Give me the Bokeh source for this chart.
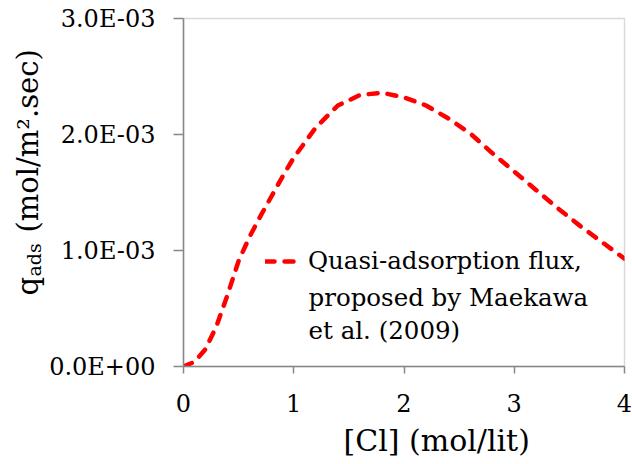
import math

from bokeh.embed import file_html
from bokeh.layouts import row
from bokeh.models import (CustomJSTickFormatter, FixedTicker, Label, Legend,
                          LegendItem, Range1d, Title)
from bokeh.plotting import figure
from bokeh.resources import INLINE

# Chloride concentration (mol/lit) and quasi-adsorption flux (mol/m2.sec)
cl_conc = [0.0, 0.1, 0.2, 0.3, 0.4, 0.5, 0.6, 0.7, 0.8, 0.9, 1.0, 1.2, 1.4,
           1.6, 1.8, 2.0, 2.2, 2.4, 2.6, 2.8, 3.0, 3.2, 3.4, 3.6, 3.8, 4.0]
q_ads = [0.0, 0.04e-3, 0.15e-3, 0.35e-3, 0.62e-3, 0.91e-3, 1.12e-3, 1.30e-3,
         1.47e-3, 1.64e-3, 1.80e-3, 2.06e-3, 2.25e-3, 2.34e-3, 2.36e-3,
         2.32e-3, 2.25e-3, 2.14e-3, 2.01e-3, 1.84e-3, 1.68e-3, 1.52e-3,
         1.36e-3, 1.21e-3, 1.07e-3, 0.93e-3]

x_ticks = [0, 1, 2, 3, 4]
y_ticks = [0.0, 0.001, 0.002, 0.003]

series_label = ["Quasi-adsorption flux,", "proposed by Maekawa", "et al. (2009)"]
x_title = "[Cl] (mol/lit)"

FONT = "DejaVu Serif"
AXIS_GRAY = "#878787"
TITLE_W = 45          # strip on the left that carries the rotated y title
H = 464

# ---- main chart ----
p = figure(width=632 - TITLE_W, height=H, output_backend="svg",
           toolbar_location=None,
           x_range=Range1d(0, 4), y_range=Range1d(0, 0.003),
           min_border_left=183 - TITLE_W, min_border_right=8,
           min_border_top=18, min_border_bottom=98)

p.background_fill_color = "white"
p.border_fill_color = "white"
p.outline_line_color = "#d9d9d9"
p.outline_line_width = 1.5
p.grid.visible = False

p.xaxis.ticker = FixedTicker(ticks=x_ticks)
p.yaxis.ticker = FixedTicker(ticks=y_ticks)
p.yaxis.formatter = CustomJSTickFormatter(code="""
    const parts = tick.toExponential(1).split('e');
    let e = parseInt(parts[1]);
    const sign = e < 0 ? '-' : '+';
    e = Math.abs(e);
    return parts[0] + 'E' + sign + (e < 10 ? '0' : '') + e;
""")
for ax in (p.xaxis[0], p.yaxis[0]):
    ax.axis_line_color = AXIS_GRAY
    ax.axis_line_width = 1.5
    ax.major_tick_line_color = AXIS_GRAY
    ax.major_tick_line_width = 1.5
    ax.major_tick_in = 0
    ax.minor_tick_line_color = None
    ax.major_label_text_font = FONT
    ax.major_label_text_font_size = "24px"
    ax.major_label_text_color = "black"
p.xaxis.major_tick_out = 7
p.xaxis.major_label_standoff = 20
p.yaxis.major_tick_out = 10
p.yaxis.major_label_standoff = 18

p.add_layout(Title(text=x_title, align="left", offset=160, standoff=12,
                   text_font=FONT, text_font_size="30px",
                   text_font_style="normal", text_color="black"), "below")

# curve
line = p.line(cl_conc, q_ads, line_color="#ff0000", line_width=4.5,
              line_dash="9 10", line_cap="round")

# legend: first line carries the glyph sample, the rest continue below
legend = Legend(items=[LegendItem(label=series_label[0], renderers=[line])],
                location=(82, 91), padding=0, margin=0, spacing=0,
                glyph_width=36, glyph_height=20, label_standoff=7,
                label_text_font=FONT, label_text_font_size="24.5px",
                label_text_color="black",
                background_fill_alpha=0, border_line_color=None)
p.add_layout(legend)

for i, txt in enumerate(series_label[1:]):
    p.add_layout(Label(x=125, y=69 - 33 * i, x_units="screen", y_units="screen",
                       text=txt, text_font=FONT, text_font_size="24.5px",
                       text_color="black", text_align="left",
                       text_baseline="alphabetic"))

# ---- rotated y title: q with subscript "ads", then the unit ----
t = figure(width=TITLE_W, height=H, output_backend="svg", toolbar_location=None,
           x_range=Range1d(0, 1), y_range=Range1d(0, 1),
           min_border=0, outline_line_color=None)
t.axis.visible = False
t.grid.visible = False
t.background_fill_color = "white"
t.border_fill_color = "white"

base = 27
t.add_layout(Label(x=base, y=71, x_units="screen", y_units="screen",
                   text="q", text_font=FONT, text_font_size="29px",
                   text_color="black", text_align="left",
                   text_baseline="alphabetic", angle=math.pi / 2))
t.add_layout(Label(x=base + 6, y=90, x_units="screen", y_units="screen",
                   text="ads", text_font=FONT, text_font_size="19px",
                   text_color="black", text_align="left",
                   text_baseline="alphabetic", angle=math.pi / 2))
t.add_layout(Label(x=base, y=134, x_units="screen", y_units="screen",
                   text="(mol/m\u00b2.sec)", text_font=FONT,
                   text_font_size="29px", text_color="black",
                   text_align="left", text_baseline="alphabetic",
                   angle=math.pi / 2))

layout = row(t, p, spacing=0)
open("out.html", "w").write(file_html(layout, INLINE))
